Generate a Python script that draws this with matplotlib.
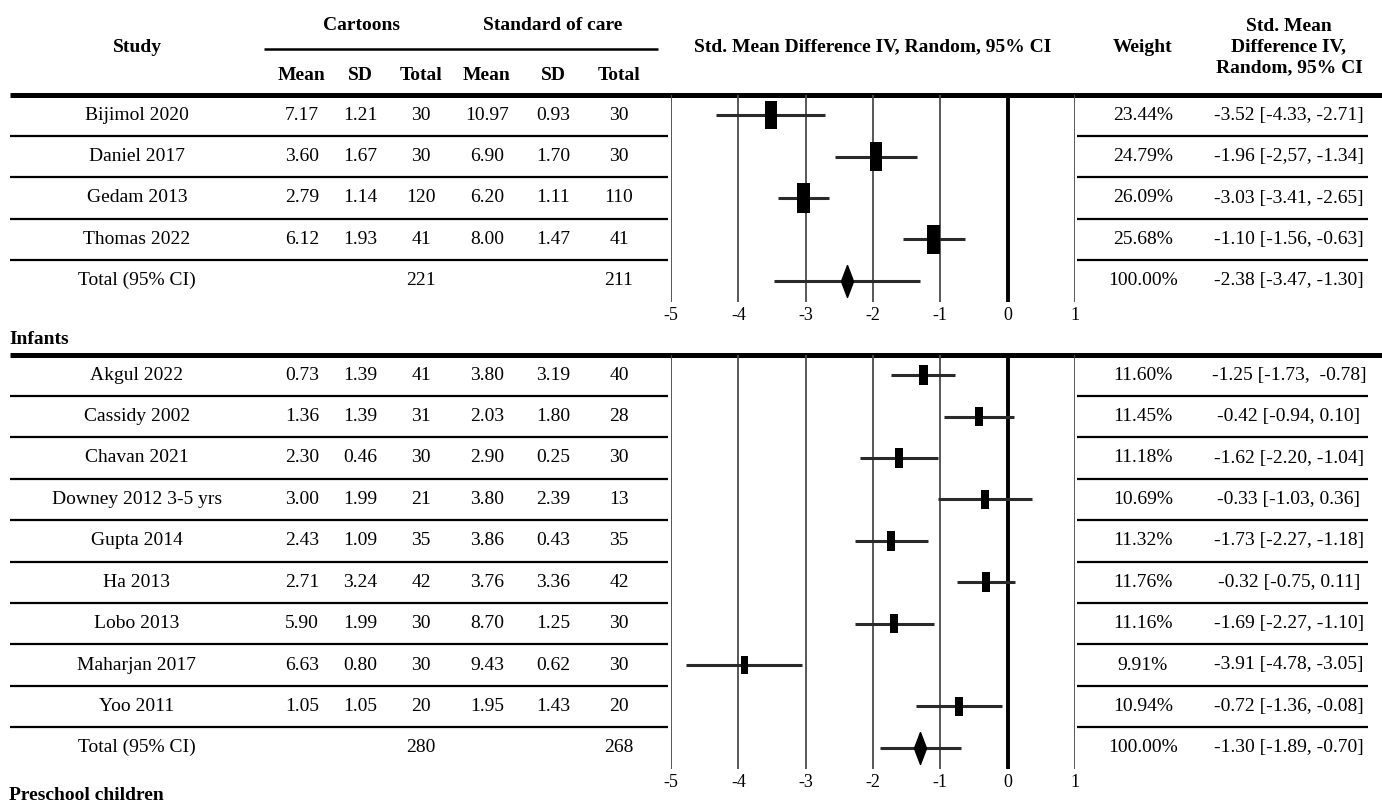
import matplotlib
matplotlib.use("Agg")
import matplotlib.pyplot as plt
import numpy as np

plt.rcParams['font.family'] = ['Liberation Serif', 'DejaVu Serif']
plt.rcParams['axes.unicode_minus'] = False

# ---------------- data ----------------
g1_studies = ["Bijimol 2020", "Daniel 2017", "Gedam 2013", "Thomas 2022"]
g1_cart_mean = [7.17, 3.60, 2.79, 6.12]
g1_cart_sd = [1.21, 1.67, 1.14, 1.93]
g1_cart_n = [30, 30, 120, 41]
g1_soc_mean = [10.97, 6.90, 6.20, 8.00]
g1_soc_sd = [0.93, 1.70, 1.11, 1.47]
g1_soc_n = [30, 30, 110, 41]
g1_weight = [23.44, 24.79, 26.09, 25.68]
g1_smd = [-3.52, -1.96, -3.03, -1.10]
g1_lo = [-4.33, -2.57, -3.41, -1.56]
g1_hi = [-2.71, -1.34, -2.65, -0.63]
g1_ci_text = ["-3.52 [-4.33, -2.71]", "-1.96 [-2,57, -1.34]",
              "-3.03 [-3.41, -2.65]", "-1.10 [-1.56, -0.63]"]
g1_total_n = [221, 211]
g1_total_smd, g1_total_lo, g1_total_hi = -2.38, -3.47, -1.30
g1_total_text = "-2.38 [-3.47, -1.30]"

g2_label = "Infants"
g2_studies = ["Akgul 2022", "Cassidy 2002", "Chavan 2021", "Downey 2012 3-5 yrs",
              "Gupta 2014", "Ha 2013", "Lobo 2013", "Maharjan 2017", "Yoo 2011"]
g2_cart_mean = [0.73, 1.36, 2.30, 3.00, 2.43, 2.71, 5.90, 6.63, 1.05]
g2_cart_sd = [1.39, 1.39, 0.46, 1.99, 1.09, 3.24, 1.99, 0.80, 1.05]
g2_cart_n = [41, 31, 30, 21, 35, 42, 30, 30, 20]
g2_soc_mean = [3.80, 2.03, 2.90, 3.80, 3.86, 3.76, 8.70, 9.43, 1.95]
g2_soc_sd = [3.19, 1.80, 0.25, 2.39, 0.43, 3.36, 1.25, 0.62, 1.43]
g2_soc_n = [40, 28, 30, 13, 35, 42, 30, 30, 20]
g2_weight = [11.60, 11.45, 11.18, 10.69, 11.32, 11.76, 11.16, 9.91, 10.94]
g2_smd = [-1.25, -0.42, -1.62, -0.33, -1.73, -0.32, -1.69, -3.91, -0.72]
g2_lo = [-1.73, -0.94, -2.20, -1.03, -2.27, -0.75, -2.27, -4.78, -1.36]
g2_hi = [-0.78, 0.10, -1.04, 0.36, -1.18, 0.11, -1.10, -3.05, -0.08]
g2_ci_text = ["-1.25 [-1.73,  -0.78]", "-0.42 [-0.94, 0.10]", "-1.62 [-2.20, -1.04]",
              "-0.33 [-1.03, 0.36]", "-1.73 [-2.27, -1.18]", "-0.32 [-0.75, 0.11]",
              "-1.69 [-2.27, -1.10]", "-3.91 [-4.78, -3.05]", "-0.72 [-1.36, -0.08]"]
g2_total_n = [280, 268]
g2_total_smd, g2_total_lo, g2_total_hi = -1.30, -1.89, -0.70
g2_total_text = "-1.30 [-1.89, -0.70]"

g3_label = "Preschool children"
x_ticks = [-5, -4, -3, -2, -1, 0, 1]

# ---------------- layout ----------------
W, H = 1382, 807
fig = plt.figure(figsize=(W / 100, H / 100), dpi=100)
bg = fig.add_axes([0, 0, 1, 1])
bg.set_xlim(0, W)
bg.set_ylim(H, 0)
bg.axis('off')

FS = 14
ROW_H = 41.4
X_STUDY = 137
X_COLS = [302, 360, 421, 487, 553, 619]
X_WEIGHT = 1143
X_CI = 1289
FX0, FX1 = 671, 1075
LEFT0, LEFT1 = 10, 668
RIGHT0, RIGHT1 = 1077, 1368

# header
bg.text(X_STUDY, 47, "Study", ha='center', va='center', fontsize=FS, fontweight='bold')
bg.text((X_COLS[0] + X_COLS[2]) / 2, 25, "Cartoons", ha='center', va='center',
        fontsize=FS, fontweight='bold')
bg.text((X_COLS[3] + X_COLS[5]) / 2, 25, "Standard of care", ha='center', va='center',
        fontsize=FS, fontweight='bold')
bg.plot([264, 658], [49, 49], color='black', lw=1.8, solid_capstyle='butt')
for x, s in zip(X_COLS, ["Mean", "SD", "Total", "Mean", "SD", "Total"]):
    bg.text(x, 75, s, ha='center', va='center', fontsize=FS, fontweight='bold')
bg.text((FX0 + FX1) / 2, 47, "Std. Mean Difference IV, Random, 95% CI", ha='center',
        va='center', fontsize=FS, fontweight='bold')
bg.text(X_WEIGHT, 47, "Weight", ha='center', va='center', fontsize=FS, fontweight='bold')
bg.text(X_CI, 47, "Std. Mean\nDifference IV,\nRandom, 95% CI", ha='center', va='center',
        fontsize=FS, fontweight='bold', linespacing=1.25)

diamond = [(0, 1), (0.38, 0), (0, -1), (-0.38, 0), (0, 1)]


def draw_group(top, studies, cm, csd, cn, sm, ssd, sn, wt, smd, lo, hi, ci_text,
               tot_n, tot_smd, tot_lo, tot_hi, tot_text):
    n = len(studies) + 1
    bg.plot([LEFT0, W], [top, top], color='black', lw=3.6, solid_capstyle='butt')
    for i in range(n):
        y = top + ROW_H * (i + 0.5)
        if i < n - 1:
            vals = [f"{cm[i]:.2f}", f"{csd[i]:.2f}", f"{cn[i]}",
                    f"{sm[i]:.2f}", f"{ssd[i]:.2f}", f"{sn[i]}"]
            bg.text(X_STUDY, y, studies[i], ha='center', va='center', fontsize=FS)
            for x, v in zip(X_COLS, vals):
                bg.text(x, y, v, ha='center', va='center', fontsize=FS)
            bg.text(X_WEIGHT, y, f"{wt[i]:.2f}%", ha='center', va='center', fontsize=FS)
            bg.text(X_CI, y, ci_text[i], ha='center', va='center', fontsize=FS)
            ys = top + ROW_H * (i + 1)
            bg.plot([LEFT0, LEFT1], [ys, ys], color='black', lw=1.6, solid_capstyle='butt')
            bg.plot([RIGHT0, RIGHT1], [ys, ys], color='black', lw=1.6, solid_capstyle='butt')
        else:
            bg.text(X_STUDY, y, "Total (95% CI)", ha='center', va='center', fontsize=FS)
            bg.text(X_COLS[2], y, f"{tot_n[0]}", ha='center', va='center', fontsize=FS)
            bg.text(X_COLS[5], y, f"{tot_n[1]}", ha='center', va='center', fontsize=FS)
            bg.text(X_WEIGHT, y, "100.00%", ha='center', va='center', fontsize=FS)
            bg.text(X_CI, y, tot_text, ha='center', va='center', fontsize=FS)

    bottom = top + ROW_H * n
    ax = fig.add_axes([FX0 / W, 1 - bottom / H, (FX1 - FX0) / W, (bottom - top) / H])
    ax.set_xlim(x_ticks[0], x_ticks[-1])
    ax.set_ylim(n, 0)
    ax.patch.set_alpha(0)
    for sp in ax.spines.values():
        sp.set_visible(False)
    ax.set_yticks([])
    ax.set_xticks(x_ticks)
    ax.set_xticklabels([str(t) for t in x_ticks])
    ax.tick_params(axis='x', length=0, pad=4, labelsize=FS - 1)
    for t in x_ticks:
        if t == 0:
            ax.axvline(t, color='black', lw=2.8, zorder=1)
        else:
            ax.axvline(t, color='#4a4a4a', lw=1.3, zorder=1)
    ypos = np.arange(len(studies)) + 0.5
    ax.hlines(ypos, lo, hi, color='#2a2a2a', lw=2.2, zorder=2)
    scale = np.sqrt(np.array(wt) / 25.0)
    bw = 0.18 * scale
    bh = 0.70 * scale
    ax.bar(smd, bh, width=bw, bottom=ypos - bh / 2, color='black', zorder=3)
    yt = n - 0.5
    ax.hlines([yt], [tot_lo], [tot_hi], color='#2a2a2a', lw=2.2, zorder=2)
    ax.plot([tot_smd], [yt], marker=diamond, ms=23, color='black', zorder=3)
    return bottom


b1 = draw_group(94.5, g1_studies, g1_cart_mean, g1_cart_sd, g1_cart_n, g1_soc_mean,
                g1_soc_sd, g1_soc_n, g1_weight, g1_smd, g1_lo, g1_hi, g1_ci_text,
                g1_total_n, g1_total_smd, g1_total_lo, g1_total_hi, g1_total_text)
bg.text(9, 339, g2_label, ha='left', va='center', fontsize=FS, fontweight='bold')
b2 = draw_group(354.5, g2_studies, g2_cart_mean, g2_cart_sd, g2_cart_n, g2_soc_mean,
                g2_soc_sd, g2_soc_n, g2_weight, g2_smd, g2_lo, g2_hi, g2_ci_text,
                g2_total_n, g2_total_smd, g2_total_lo, g2_total_hi, g2_total_text)
bg.text(9, 796, g3_label, ha='left', va='center', fontsize=FS, fontweight='bold')

fig.savefig("out.png", dpi=100, facecolor='white')
